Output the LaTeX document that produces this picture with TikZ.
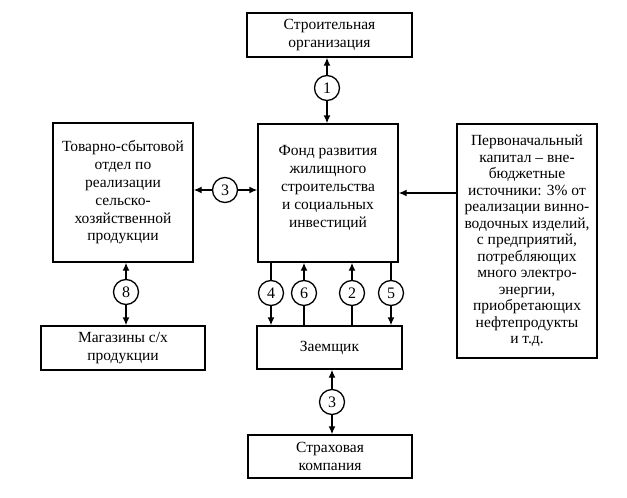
\documentclass[tikz,border=0pt]{standalone}
\usepackage{fontspec}
\setmainfont{Liberation Serif}
\usetikzlibrary{arrows.meta}
\begin{document}
\begin{tikzpicture}[x=1pt,y=-1pt,
  txt/.style={align=center, inner sep=0pt, font=\fontsize{15.5}{17.8}\selectfont},
  box/.style={draw, line width=1.4pt, txt},
  num/.style={draw, circle, line width=1.3pt, minimum size=25pt, inner sep=0pt, font=\fontsize{16}{16}\selectfont},
  conn/.style={line width=1.4pt},
  arr/.style={line width=1.4pt, -{Latex[length=8pt,width=7pt]}}]
\useasboundingbox (0,0) rectangle (627,498);
% boxes
\node[box, minimum width=165pt, minimum height=44pt] (stroi) at (329.5,35) {Строительная\\организация};
\node[box, minimum width=140pt, minimum height=138pt] (fund) at (328,193) {};
\node[txt] (fundtxt) at (328,188) {Фонд развития\\жилищного\\строительства\\и социальных\\инвестиций};
\node[box, minimum width=140pt, minimum height=139pt] (left) at (123,192.5) {Товарно-сбытовой\\отдел по\\реализации\\сельско-\\хозяйственной\\продукции};
\node[box, minimum width=164pt, minimum height=44pt] (mag) at (123,348) {Магазины с/х\\продукции};
\node[box, minimum width=140pt, minimum height=234pt, font=\fontsize{15.5}{16.5}\selectfont] (right) at (527,241) {Первоначальный\\капитал – вне-\\бюджетные\\источники: 3\% от\\реализации винно-\\водочных изделий,\\с предприятий,\\потребляющих\\много электро-\\энергии,\\приобретающих\\нефтепродукты\\и т.д.};
\node[box, minimum width=145pt, minimum height=43pt] (zaem) at (329.5,347.5) {Заемщик};
\node[box, minimum width=164pt, minimum height=43pt] (strah) at (330,456.5) {Страховая\\компания};
% circles
\node[num] (c1) at (327,88) {1};
\node[num] (c3l) at (225,190) {3};
\node[num] (c8) at (126,292) {8};
\node[num] (c3b) at (332,402) {3};
\node[num] (c4) at (271,293) {4};
\node[num] (c6) at (304,293) {6};
\node[num] (c2) at (352,293) {2};
\node[num] (c5) at (391,293) {5};
% connectors
\draw[arr] (c1.north) -- (c1.north |- stroi.south);
\draw[arr] (c1.south) -- (c1.south |- fund.north);
\draw[arr] (c3l.west) -- (c3l.west -| left.east);
\draw[arr] (c3l.east) -- (c3l.east -| fund.west);
\draw[arr] (c8.north) -- (c8.north |- left.south);
\draw[arr] (c8.south) -- (c8.south |- mag.north);
\draw[arr] (c3b.north) -- (c3b.north |- zaem.south);
\draw[arr] (c3b.south) -- (c3b.south |- strah.north);
\coordinate (rin) at (right.west |- 0,193);
\draw[arr] (rin) -- (rin -| fund.east);
% 4: down
\draw[conn] (c4.north |- fund.south) -- (c4.north);
\draw[arr] (c4.south) -- (c4.south |- zaem.north);
% 6: up
\draw[conn] (c6.south |- zaem.north) -- (c6.south);
\draw[arr] (c6.north) -- (c6.north |- fund.south);
% 2: up
\draw[conn] (c2.south |- zaem.north) -- (c2.south);
\draw[arr] (c2.north) -- (c2.north |- fund.south);
% 5: down
\draw[conn] (c5.north |- fund.south) -- (c5.north);
\draw[arr] (c5.south) -- (c5.south |- zaem.north);
\end{tikzpicture}
\end{document}
